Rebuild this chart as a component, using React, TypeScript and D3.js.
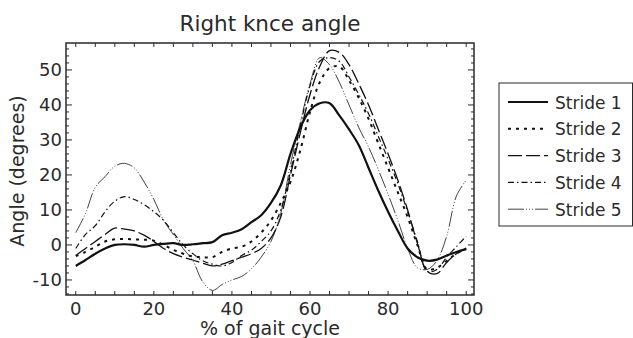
import { useEffect, useRef } from "react"
import * as d3 from "d3"

const pct = [0, 2.5, 5, 7.5, 10, 12.5, 15, 17.5, 20, 22.5, 25, 27.5, 30, 32.5, 35, 37.5, 40, 42.5, 45, 47.5, 50,
  52.5, 55, 57.5, 60, 62.5, 65, 67.5, 70, 72.5, 75, 77.5, 80, 82.5, 85, 87.5, 90, 92.5, 95, 97.5, 100]

const stride1 = [-6, -4.3, -2.5, -1, 0, 0.2, 0, -0.5, 0, 0.3, 0.5, 0, 0.2, 0.5, 0.8, 2.8, 3.5, 4.5, 6.5, 8.5, 12,
  17, 26, 33.5, 38.5, 40.5, 40.5, 37, 33, 28.5, 22, 15.5, 9.5, 4, -1, -3.5, -4.5, -4.2, -3, -2, -1.2]
const stride2 = [-3.2, -2, -0.5, 1, 1.6, 1.7, 1.6, 1.5, 1.2, 0, -1.4, -2.5, -3.3, -3.5, -3.5, -2, -1, -0.5, 1, 3.5, 7,
  12, 18, 27, 38, 46.5, 50.5, 51, 47, 42, 36, 29, 22, 15, 8, 0, -7, -6.5, -4.5, -2.5, -1]
const stride3 = [-3, -1, 1, 3, 4.8, 4.5, 4, 2.8, 1, -1, -2.5, -3.5, -4.3, -5.2, -6, -5.5, -4.5, -3.5, -2.5, -1, 2,
  8, 20, 32, 43, 51, 55.5, 55, 51.5, 46, 40, 33, 26, 18.5, 10, 0.5, -7.5, -8.2, -5, -2.5, -1]
const stride4 = [-1, 3, 5.5, 9.5, 12.5, 13.8, 13, 11.5, 9.5, 7, 3.5, 0, -2.5, -4.5, -5.5, -6, -5, -3, -1.5, 1, 4,
  10, 21, 34, 45.5, 52.5, 53.5, 52.5, 48, 43, 37.5, 31, 24.5, 17.5, 9.5, 1, -7.5, -7, -3.5, -0.5, 2.5]
const stride5 = [3.5, 9, 16.5, 19.5, 22.5, 23.3, 22, 18, 13, 7, 3, -1, -4.5, -10.5, -13, -11.3, -10, -9, -6.8, -3.5, 1,
  9, 23, 35, 46, 53.5, 51.5, 46.5, 40, 33.5, 28, 21.5, 14.5, 7, -1, -6.5, -7, -4.5, 2.5, 14, 18.5]

const seriesNames = ["Stride 1", "Stride 2", "Stride 3", "Stride 4", "Stride 5"]
const seriesValues = [stride1, stride2, stride3, stride4, stride5]
const xTicks = [0, 20, 40, 60, 80, 100]
const yTicks = [-10, 0, 10, 20, 30, 40, 50]

const STYLES = [
  { w: 2.2, dash: "" },
  { w: 2, dash: "3,5" },
  { w: 1.3, dash: "14,4" },
  { w: 1.2, dash: "6,3,1.5,3" },
  { w: 0.8, dash: "16,2,1,2,1,2,1,2" },
]
const FONT = "'DejaVu Sans', sans-serif"
const INK = "#2a2a2a"

export default function App() {
  const ref = useRef<SVGSVGElement>(null)
  useEffect(() => {
    if (!ref.current) return
    const m = { left: 66, top: 43, right: 474, bottom: 295 }
    const svg = d3.select(ref.current)
    svg.selectAll("*").remove()

    const x = d3.scaleLinear().domain([-2.5, 102]).range([m.left, m.right])
    const y = d3.scaleLinear().domain([-14.3, 57.7]).range([m.bottom, m.top])

    // frame
    svg.append("rect").attr("x", m.left).attr("y", m.top).attr("width", m.right - m.left).attr("height", m.bottom - m.top)
      .attr("fill", "none").attr("stroke", INK).attr("stroke-width", 1.5)

    // inward ticks on all four sides
    const xt = d3.range(0, 101, 5)
    const yt = d3.range(-14, 57, 2)
    const tk = svg.append("g").attr("stroke", INK).attr("stroke-width", 1)
    xt.forEach(v => {
      tk.append("line").attr("x1", x(v)).attr("x2", x(v)).attr("y1", m.bottom).attr("y2", m.bottom - 4)
      tk.append("line").attr("x1", x(v)).attr("x2", x(v)).attr("y1", m.top).attr("y2", m.top + 4)
    })
    yt.forEach(v => {
      const len = v % 10 === 0 ? 6 : 3
      tk.append("line").attr("y1", y(v)).attr("y2", y(v)).attr("x1", m.left).attr("x2", m.left + len)
      tk.append("line").attr("y1", y(v)).attr("y2", y(v)).attr("x1", m.right).attr("x2", m.right - len)
    })

    svg.append("g").selectAll("text").data(xTicks).join("text")
      .attr("x", d => x(d)).attr("y", 315).attr("text-anchor", "middle")
      .style("font-family", FONT).style("font-size", "18px").style("fill", INK).text(d => d)
    svg.append("g").selectAll("text").data(yTicks).join("text")
      .attr("x", 62).attr("y", d => y(d) + 6.5).attr("text-anchor", "end")
      .style("font-family", FONT).style("font-size", "18px").style("fill", INK).text(d => d)

    svg.append("text").attr("x", (m.left + m.right) / 2).attr("y", 31).attr("text-anchor", "middle")
      .style("font-family", FONT).style("font-size", "21.5px").style("fill", INK).text("Right knce angle")
    svg.append("text").attr("x", (m.left + m.right) / 2).attr("y", 335).attr("text-anchor", "middle")
      .style("font-family", FONT).style("font-size", "19px").style("fill", INK).text("% of gait cycle")
    svg.append("text").attr("transform", "rotate(-90)").attr("x", -171).attr("y", 24).attr("text-anchor", "middle")
      .style("font-family", FONT).style("font-size", "19px").style("fill", INK).text("Angle (degrees)")

    const line = d3.line<number>().x((_, i) => x(pct[i])).y(d => y(d)).curve(d3.curveCatmullRom.alpha(0.5))
    seriesValues.forEach((vals, i) => {
      svg.append("path").attr("d", line(vals)).attr("fill", "none").attr("stroke", "#111")
        .attr("stroke-width", STYLES[i].w).attr("stroke-dasharray", STYLES[i].dash).attr("stroke-linejoin", "round")
    })

    // legend
    const lg = svg.append("g")
    lg.append("rect").attr("x", 499).attr("y", 83).attr("width", 133.5).attr("height", 143)
      .attr("fill", "white").attr("stroke", INK).attr("stroke-width", 1)
    seriesNames.forEach((name, i) => {
      const cy = 102 + i * 26.8
      lg.append("line").attr("x1", 508).attr("x2", 548).attr("y1", cy).attr("y2", cy).attr("stroke", "#111")
        .attr("stroke-width", STYLES[i].w).attr("stroke-dasharray", STYLES[i].dash)
      lg.append("text").attr("x", 555).attr("y", cy + 6.5).style("font-family", FONT).style("font-size", "17px")
        .style("fill", INK).text(name)
    })
  }, [])
  return <svg ref={ref} width={633} height={338} style={{ position: "absolute", left: 0, top: 0, display: "block", background: "white" }} />
}
